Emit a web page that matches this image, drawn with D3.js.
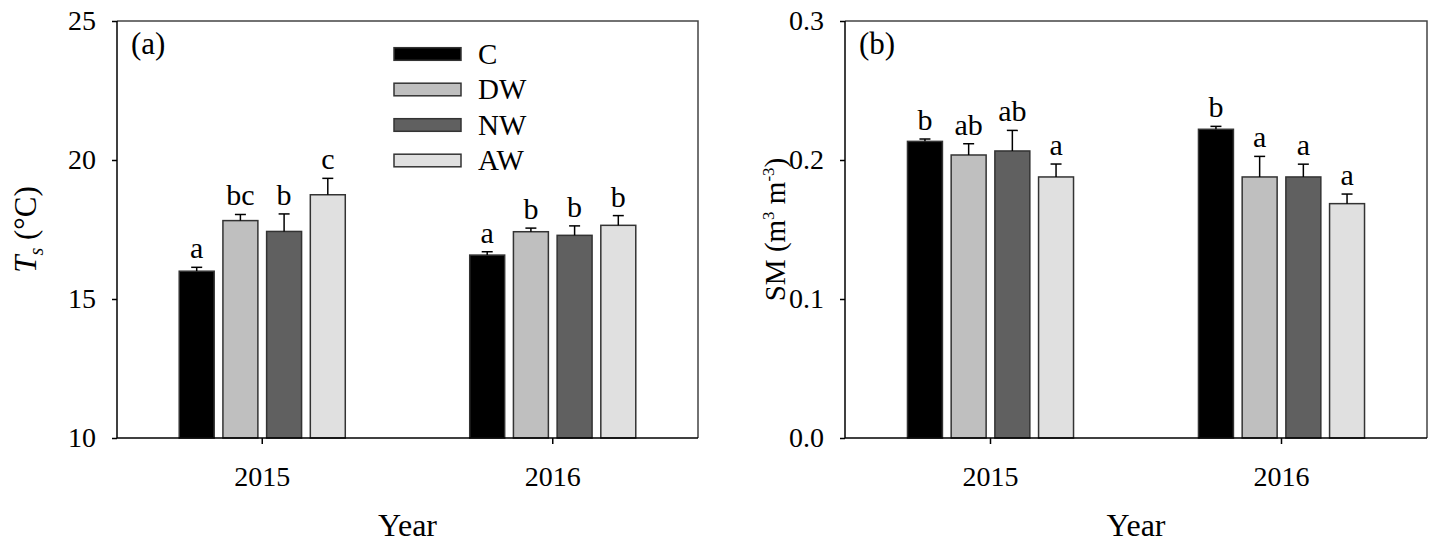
<!DOCTYPE html>
<html>
<head>
<meta charset="utf-8">
<script src="https://cdn.jsdelivr.net/npm/d3@7/dist/d3.min.js"></script>
<style>
  html, body { margin: 0; padding: 0; background: #fff; }
  svg { display: block; }
  text { font-family: "Liberation Serif", "Times New Roman", serif; fill: #000; }
</style>
</head>
<body>
<svg id="chart" width="1431" height="542"></svg>
<script>
// ---- data ----
const years = ["2015", "2016"];
const treatments = ["C", "DW", "NW", "AW"];
const fills = ["#000000", "#bfbfbf", "#606060", "#e0e0e0"];

// Panel (a): soil temperature Ts (°C), indexed [year][treatment]
const tsMean = [[16.00, 17.82, 17.43, 18.75], [16.58, 17.42, 17.29, 17.65]];
const tsErr = [[0.14, 0.22, 0.63, 0.59], [0.12, 0.13, 0.34, 0.35]];
const tsLetters = [["a", "bc", "b", "c"], ["a", "b", "b", "b"]];
const tsTicks = [10, 15, 20, 25];

// Panel (b): soil moisture SM (m3 m-3)
const smMean = [[0.2134, 0.2036, 0.2065, 0.1878], [0.2221, 0.1878, 0.1878, 0.1686]];
const smErr = [[0.0017, 0.0081, 0.0148, 0.0093], [0.0021, 0.0148, 0.0092, 0.0069]];
const smLetters = [["b", "ab", "ab", "a"], ["b", "a", "a", "a"]];
const smTicks = [0.0, 0.1, 0.2, 0.3];

const FONT = '"Liberation Serif", "Times New Roman", serif';
const svg = d3.select("#chart");

function drawPanel(opt) {
  const { x0r, yDomain, mean, err, letters, ticks, fmt, label } = opt;
  const top = 21, bottom = 438;
  const g = svg.append("g");

  const x0 = d3.scaleBand().domain(years).range(x0r).paddingInner(0).paddingOuter(0);
  const grpW = 174.8;
  const x1 = d3.scaleBand().domain(treatments).range([-grpW / 2, grpW / 2]).paddingInner(0.2).paddingOuter(0.1);
  const y = d3.scaleLinear().domain(yDomain).range([bottom, top]);

  // frame (top + right)
  g.append("path")
    .attr("d", `M${x0r[0]},${top}H${x0r[1]}V${bottom}`)
    .attr("fill", "none").attr("stroke", "#444").attr("stroke-width", 1.5);

  // bars
  years.forEach((yr, yi) => {
    treatments.forEach((t, ti) => {
      const cx = x0(yr) + x0.bandwidth() / 2;
      const bx = cx + x1(t);
      const v = mean[yi][ti];
      const e = err[yi][ti];
      g.append("rect")
        .attr("x", bx).attr("y", y(v))
        .attr("width", x1.bandwidth()).attr("height", y(yDomain[0]) - y(v))
        .attr("fill", fills[ti]).attr("stroke", "#333").attr("stroke-width", 1.5);
      const mx = bx + x1.bandwidth() / 2;
      g.append("line")
        .attr("x1", mx).attr("x2", mx).attr("y1", y(v)).attr("y2", y(v + e))
        .attr("stroke", "#000").attr("stroke-width", 1.5);
      g.append("line")
        .attr("x1", mx - 5.5).attr("x2", mx + 5.5).attr("y1", y(v + e)).attr("y2", y(v + e))
        .attr("stroke", "#000").attr("stroke-width", 1.5);
      g.append("text")
        .attr("x", mx).attr("y", y(v + e) - 9)
        .attr("text-anchor", "middle").attr("font-size", 30)
        .text(letters[yi][ti]);
    });
  });

  // y axis
  const yAxis = d3.axisLeft(y).tickValues(ticks).tickFormat(fmt).tickSize(5).tickPadding(16);
  const ya = g.append("g").attr("transform", `translate(${x0r[0]},0)`).call(yAxis);
  ya.attr("font-family", null).attr("font-size", null);
  ya.select(".domain").attr("stroke", "#000").attr("stroke-width", 1.5).attr("d", `M0,${top}V${bottom}`);
  ya.selectAll(".tick line").attr("stroke", "#000").attr("stroke-width", 1.5);
  ya.selectAll(".tick text").attr("font-size", 28).attr("fill", "#000");

  // x axis
  const xAxis = d3.axisBottom(x0).tickSize(6).tickPadding(22);
  const xa = g.append("g").attr("transform", `translate(0,${bottom})`).call(xAxis);
  xa.attr("font-family", null).attr("font-size", null);
  xa.select(".domain").attr("stroke", "#000").attr("stroke-width", 1.5).attr("d", `M${x0r[0]},0H${x0r[1]}`);
  xa.selectAll(".tick line").attr("stroke", "#000").attr("stroke-width", 1.5);
  xa.selectAll(".tick text").attr("font-size", 28).attr("fill", "#000");

  // x title
  g.append("text").attr("x", (x0r[0] + x0r[1]) / 2).attr("y", 536)
    .attr("text-anchor", "middle").attr("font-size", 32).text("Year");

  // panel label
  g.append("text").attr("x", x0r[0] + 14).attr("y", 54)
    .attr("font-size", 31).text(label);
}

drawPanel({ x0r: [117, 698], yDomain: [10, 25], mean: tsMean, err: tsErr, letters: tsLetters,
  ticks: tsTicks, fmt: d3.format("d"), label: "(a)" });
drawPanel({ x0r: [845, 1427], yDomain: [0, 0.3], mean: smMean, err: smErr, letters: smLetters,
  ticks: smTicks, fmt: d3.format(".1f"), label: "(b)" });

// y titles
const yt1 = svg.append("text").attr("transform", `translate(36,229.5) rotate(-90)`)
  .attr("text-anchor", "middle").attr("font-size", 31);
yt1.append("tspan").attr("font-style", "italic").text("T");
yt1.append("tspan").attr("font-style", "italic").attr("font-size", 20).attr("dy", 7).text("s");
yt1.append("tspan").attr("dy", -7).text(" (°C)");

const yt2 = svg.append("text").attr("transform", `translate(785,229.5) rotate(-90)`)
  .attr("text-anchor", "middle").attr("font-size", 29);
yt2.append("tspan").text("SM (m");
yt2.append("tspan").attr("font-size", 17).attr("dy", -11).text("3");
yt2.append("tspan").attr("dy", 11).text(" m");
yt2.append("tspan").attr("font-size", 17).attr("dy", -11).text("-3");
yt2.append("tspan").attr("dy", 11).text(")");

// legend in panel (a)
const leg = svg.append("g");
treatments.forEach((t, i) => {
  const cy = 54 + i * 35.5;
  leg.append("rect").attr("x", 394).attr("y", cy - 6.3).attr("width", 67).attr("height", 12.6)
    .attr("fill", fills[i]).attr("stroke", "#333").attr("stroke-width", 1.5);
  leg.append("text").attr("x", 478).attr("y", cy + 9.5).attr("font-size", 29).text(t);
});

svg.selectAll("text").style("font-family", FONT);
</script>
</body>
</html>
